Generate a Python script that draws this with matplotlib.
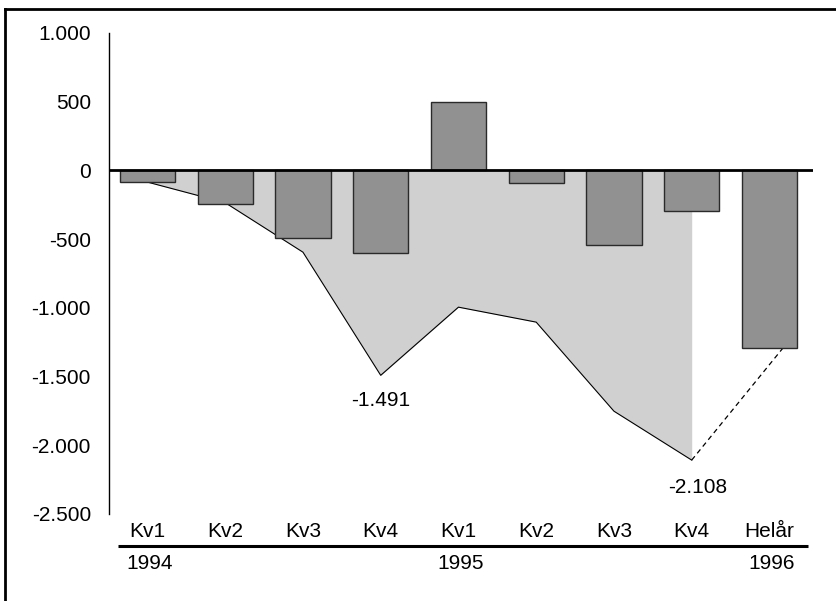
import matplotlib.pyplot as plt
from matplotlib.lines import Line2D
from matplotlib.ticker import FuncFormatter

plt.rcParams['font.family'] = ['Liberation Sans', 'DejaVu Sans']

# Quarterly result (bars) and accumulated result (shaded line)
quarters = ["Kv1", "Kv2", "Kv3", "Kv4", "Kv1", "Kv2", "Kv3", "Kv4", "Helår"]
years = {0: "1994", 4: "1995", 8: "1996"}
result = [-85, -243, -495, -602, 500, -90, -546, -293, -1295]
accumulated = [-85, -235, -595, -1491, -995, -1104, -1752, -2108]
yearly_end = 8.17  # where the dashed link meets the full-year bar

fig = plt.figure(figsize=(8.37, 6.01), dpi=100)
ax = fig.add_axes([0.1302, 0.1448, 0.8411, 0.8003])

xs = list(range(len(quarters)))
acc_x = xs[:len(accumulated)]

# shaded area between zero and the accumulated curve
ax.fill_between(acc_x, accumulated, 0, color="#d0d0d0", lw=0, zorder=1)
ax.plot(acc_x, accumulated, color="black", lw=0.8, zorder=2)
ax.plot([acc_x[-1], yearly_end], [accumulated[-1], result[-1]],
        color="black", lw=0.9, ls=(0, (4, 3)), zorder=2)

ax.bar(xs, result, width=0.71, color="#919191", edgecolor="#2a2a2a",
       linewidth=1.0, zorder=3)

ax.axhline(0, color="black", lw=2.0, zorder=4)

ax.set_xlim(-0.495, 8.56)
ax.set_ylim(-2500, 1000)
ax.set_yticks(range(-2500, 1001, 500))
ax.yaxis.set_major_formatter(FuncFormatter(lambda v, p: f"{int(v):,}".replace(",", ".")))
ax.tick_params(axis="y", length=0, pad=13, labelsize=15)
ax.set_xticks([])
for side in ["top", "right", "bottom"]:
    ax.spines[side].set_visible(False)
ax.spines["left"].set_linewidth(1.0)

# value labels on the two low points
ax.annotate("-1.491", (3, accumulated[3]), xytext=(0, -22), textcoords="offset points",
            ha="center", va="baseline", fontsize=15)
ax.annotate("-2.108", (7, accumulated[7]), xytext=(4, -24), textcoords="offset points",
            ha="center", va="baseline", fontsize=15)

# category and year labels under the plot
tr = ax.get_xaxis_transform()
for x, q in zip(xs, quarters):
    ax.text(x, -0.047, q, transform=tr, ha="center", va="baseline", fontsize=15)
ax.plot([-0.38, 8.50], [-0.066, -0.066], transform=tr, color="black",
        lw=2.2, clip_on=False, solid_capstyle="butt")
for x, y in years.items():
    ax.text(x - 0.27, -0.114, y, transform=tr, ha="left", va="baseline", fontsize=15)

# frame lines along the top and left edge
fig.add_artist(Line2D([5.5 / 837, 5.5 / 837], [0, 1 - 8.5 / 601], color="black", lw=2.0))
fig.add_artist(Line2D([4.5 / 837, 1], [1 - 8.5 / 601, 1 - 8.5 / 601], color="black", lw=2.0))

fig.savefig("out.png", dpi=100)
